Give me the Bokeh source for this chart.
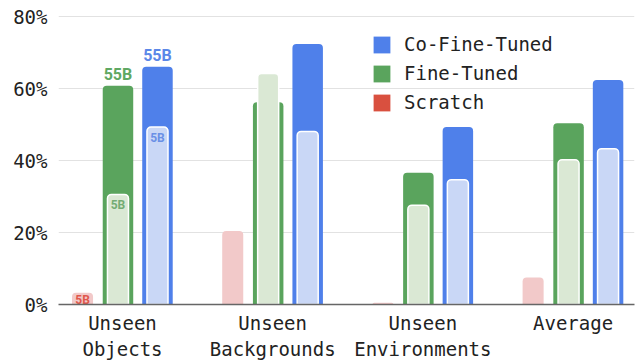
from bokeh.plotting import figure
from bokeh.models import ColumnDataSource, Range1d, FixedTicker, Legend, LegendItem, PrintfTickFormatter
from bokeh.transform import dodge
from bokeh.core.properties import value
from bokeh.embed import file_html
from bokeh.resources import INLINE

# ---------------- data ----------------
categories = ["Unseen\nObjects", "Unseen\nBackgrounds", "Unseen\nEnvironments", "Average"]
scratch_5b = [3.3, 20.4, 0.5, 7.5]
fine_55b = [60.8, 56.2, 36.6, 50.4]
fine_5b = [30.6, 64.2, 27.6, 40.2]
cofine_55b = [66.1, 72.4, 49.3, 62.4]
cofine_5b = [49.3, 48.1, 34.7, 43.3]
scratch_5b_labels = ["5B", "", "", ""]
fine_55b_labels = ["55B", "", "", ""]
fine_5b_labels = ["5B", "", "", ""]
cofine_55b_labels = ["55B", "", "", ""]
cofine_5b_labels = ["5B", "", "", ""]
y_ticks = [0, 20, 40, 60, 80]
series_names = ["Co-Fine-Tuned", "Fine-Tuned", "Scratch"]
series_colors = ["#4F80EA", "#5AA45D", "#D9503F"]

# ---------------- styles ----------------
BLUE, BLUE_L = "#4F80EA", "#C9D7F6"
GREEN, GREEN_L = "#5AA45D", "#DAE8D4"
PINK = "#F2C9C9"
MONO = "DejaVu Sans Mono"
OFF_S, OFF_F, OFF_C = -0.266, -0.03, 0.233
W_DARK, W_LIGHT = 0.203, 0.14
RADIUS = (4, 4, 0, 0)

idx = list(range(len(categories)))
src = ColumnDataSource(dict(
    x=idx, scratch_5b=scratch_5b, fine_55b=fine_55b, fine_5b=fine_5b,
    cofine_55b=cofine_55b, cofine_5b=cofine_5b,
    scratch_5b_labels=scratch_5b_labels, fine_55b_labels=fine_55b_labels,
    fine_5b_labels=fine_5b_labels, cofine_55b_labels=cofine_55b_labels,
    cofine_5b_labels=cofine_5b_labels,
))

p = figure(width=637, height=362, output_backend="svg", toolbar_location=None,
           x_range=Range1d(-0.426, 3.409), y_range=Range1d(0, 83.1),
           min_border_left=58, min_border_right=3, min_border_top=5, min_border_bottom=57)
p.outline_line_color = None
p.background_fill_color = "white"

# bars
p.vbar(x=dodge("x", OFF_S), top="scratch_5b", width=W_LIGHT, source=src,
       fill_color=PINK, line_color=None, border_radius=RADIUS)
p.vbar(x=dodge("x", OFF_F), top="fine_55b", width=W_DARK, source=src,
       fill_color=GREEN, line_color=None, border_radius=RADIUS)
p.vbar(x=dodge("x", OFF_F), top="fine_5b", width=W_LIGHT, source=src,
       fill_color=GREEN_L, line_color="white", line_width=1.5, border_radius=RADIUS)
p.vbar(x=dodge("x", OFF_C), top="cofine_55b", width=W_DARK, source=src,
       fill_color=BLUE, line_color=None, border_radius=RADIUS)
p.vbar(x=dodge("x", OFF_C), top="cofine_5b", width=W_LIGHT, source=src,
       fill_color=BLUE_L, line_color="white", line_width=1.5, border_radius=RADIUS)

# labels
def lab(off, top, text, color, size, baseline, yoff):
    p.text(x=dodge("x", off), y=top, text=text, source=src, text_color=color,
           text_font=value("Roboto"), text_font_style="bold", text_font_size=size,
           text_align="center", text_baseline=baseline, y_offset=yoff)

lab(OFF_F, "fine_55b", "fine_55b_labels", "#5FA862", "16px", "bottom", -2)
lab(OFF_C, "cofine_55b", "cofine_55b_labels", "#5B87E8", "16px", "bottom", -2)
lab(OFF_F, "fine_5b", "fine_5b_labels", "#74AC74", "12px", "top", 4)
lab(OFF_C, "cofine_5b", "cofine_5b_labels", "#6A90E6", "12px", "top", 4)
lab(OFF_S, "scratch_5b", "scratch_5b_labels", "#E0574B", "12px", "top", 0)

# axes
for ax in (p.xaxis, p.yaxis):
    ax.major_tick_line_color = None
    ax.minor_tick_line_color = None
    ax.major_tick_out = 0
    ax.major_tick_in = 0
    ax.minor_tick_out = 0
    ax.minor_tick_in = 0
    ax.major_label_text_font = MONO
    ax.major_label_text_font_size = "19px"
    ax.major_label_text_color = "#222222"

p.xaxis.ticker = FixedTicker(ticks=idx)
p.xaxis.major_label_overrides = {i: c for i, c in zip(idx, categories)}
p.xaxis.axis_line_color = "#666666"
p.xaxis.axis_line_width = 1.5
p.xaxis.major_label_standoff = 7

p.yaxis.ticker = FixedTicker(ticks=y_ticks)
p.yaxis.formatter = PrintfTickFormatter(format="%d%%")
p.yaxis.axis_line_color = None
p.yaxis.major_label_standoff = 11

p.xgrid.grid_line_color = None
p.ygrid.ticker = FixedTicker(ticks=y_ticks)
p.ygrid.grid_line_color = "#E2E2E2"
p.ygrid.grid_line_width = 1

# legend
nan = float("nan")
legend_items = []
for name, col in zip(series_names, series_colors):
    dummy = ColumnDataSource(dict(x=[nan], top=[nan]))
    r = p.vbar(x="x", top="top", width=0.1, source=dummy, fill_color=col, line_color=None)
    legend_items.append(LegendItem(label=name, renderers=[r]))

legend = Legend(items=legend_items, location=(313, 191), orientation="vertical",
                glyph_width=21, glyph_height=21, label_height=21, label_standoff=12,
                spacing=7, padding=0, margin=0, border_line_alpha=0,
                background_fill_alpha=0, label_text_font=MONO,
                label_text_font_size="19px", label_text_color="#222222")
p.add_layout(legend)

open("out.html", "w").write(file_html(p, INLINE))
